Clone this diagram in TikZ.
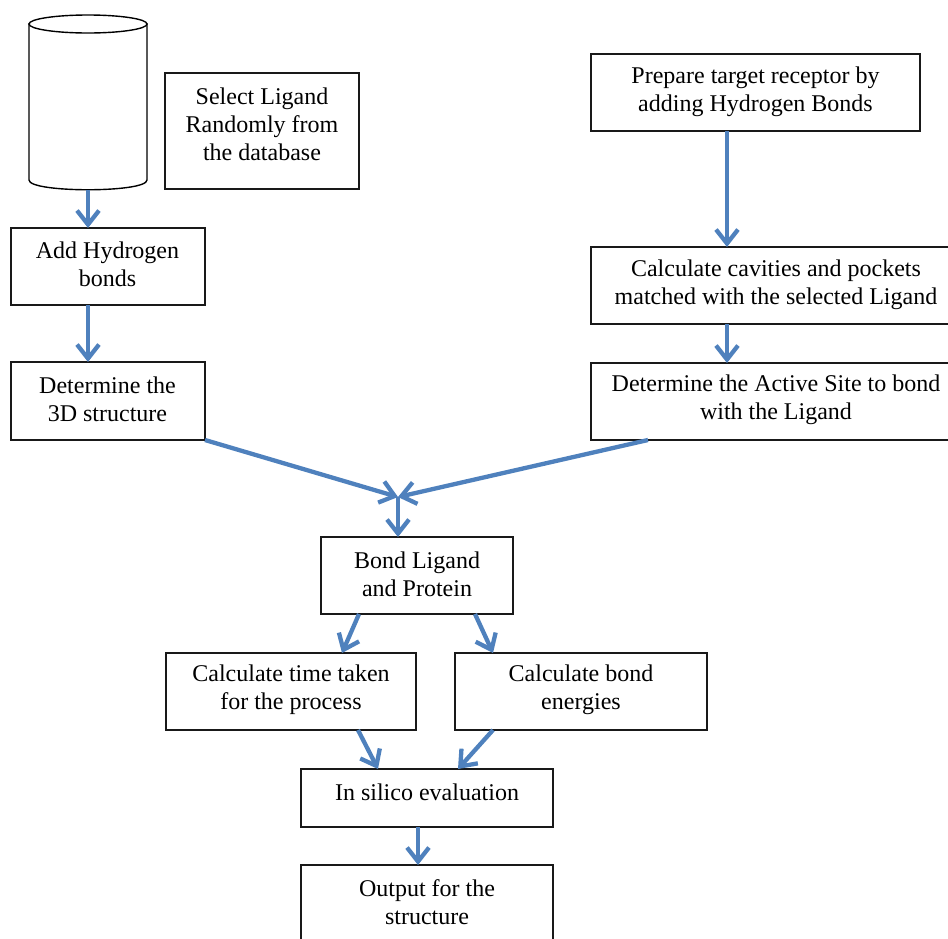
\documentclass[tikz,border=0pt]{standalone}
\usepackage{fontspec}
\setmainfont{Liberation Serif}
\usetikzlibrary{arrows.meta,calc}
\definecolor{arr}{RGB}{79,129,189}
\begin{document}
\begin{tikzpicture}[x=1pt,y=-1pt,
  box/.style={draw=black!90,line width=1.4pt,fill=white,inner sep=0pt,outer sep=0pt},
  txt/.style={align=center,font=\fontsize{24}{28}\selectfont,inner sep=0pt},
  flow/.style={draw=arr,line width=4.3pt,-{Straight Barb[length=14pt,width=22pt]}}]
\path[use as bounding box] (0,0) rectangle (948,938);
\clip (0,0) rectangle (948,938);
% database cylinder
\draw[line width=1.4pt,fill=white] (29,24) -- (29,180) .. controls (29,193) and (147,193) .. (147,180) -- (147,24) -- cycle;
\draw[line width=1.4pt,fill=white] (88,24) ellipse[x radius=59,y radius=9];
\coordinate (dbbot) at (88,190);
% boxes
\node[box,minimum width=194pt,minimum height=116pt] (sel) at (262,131) {};
\node[box,minimum width=194pt,minimum height=77pt] (add) at (108,266.5) {};
\node[box,minimum width=194pt,minimum height=78pt] (det) at (108,401) {};
\node[box,minimum width=329pt,minimum height=77pt] (prep) at (755.5,92.5) {};
\node[box,minimum width=369pt,minimum height=77pt] (cav) at (775.5,285.5) {};
\node[box,minimum width=369pt,minimum height=77pt] (act) at (775.5,401.5) {};
\node[box,minimum width=192pt,minimum height=77pt] (bond) at (417,575.5) {};
\node[box,minimum width=250pt,minimum height=77pt] (time) at (291,691.5) {};
\node[box,minimum width=252pt,minimum height=77pt] (energ) at (581,691.5) {};
\node[box,minimum width=252pt,minimum height=58pt] (silico) at (427,798) {};
\node[box,minimum width=252pt,minimum height=76pt] (out) at (427,903) {};
% texts
\node[txt] (tsel) at (262,124.5) {Select Ligand\\Randomly from\\the database};
\node[txt] (tadd) at (107.5,264.5) {Add Hydrogen\\bonds};
\node[txt] (tdet) at (107.5,399.5) {Determine the\\3D structure};
\node[txt] (tprep) at (755.5,91.5) {Prepare target receptor by\\adding Hydrogen Bonds};
\node[txt] (tcav) at (776,284.5) {Calculate cavities and pockets\\matched with the selected Ligand};
\node[txt] (tact) at (776,400) {Determine the Active Site to bond\\with the Ligand};
\node[txt] (tbond) at (417,574) {Bond Ligand\\and Protein};
\node[txt] (ttime) at (291,689.5) {Calculate time taken\\for the process};
\node[txt] (tenerg) at (581,689.5) {Calculate bond\\energies};
\node[txt] (tsilico) at (427,792) {In silico evaluation};
\node[txt] (tout) at (427,902) {Output for the\\structure};
% connectors
\coordinate (rx) at (727,0);
\coordinate (join) at (398,497);
\draw[flow] (dbbot) -- (add.north -| dbbot);
\draw[flow] (add.south -| dbbot) -- (det.north -| dbbot);
\draw[flow] (prep.south -| rx) -- (cav.north -| rx);
\draw[flow] (cav.south -| rx) -- (act.north -| rx);
\draw[flow] (det.south east) -- (join);
\draw[flow] ($(act.south west)+(57,0)$) -- (join);
\draw[flow] (join) -- (bond.north -| join);
\draw[flow] ($(bond.south west)+(38,0)$) -- ($(time.north west)+(176,0)$);
\draw[flow] ($(bond.south west)+(154,0)$) -- ($(energ.north west)+(38,0)$);
\draw[flow] ($(time.south west)+(192,0)$) -- ($(silico.north west)+(77,0)$);
\draw[flow] ($(energ.south west)+(38,0)$) -- ($(silico.north west)+(157,0)$);
\draw[flow] ($(silico.south west)+(117,0)$) -- ($(out.north west)+(117,0)$);
\end{tikzpicture}
\end{document}
